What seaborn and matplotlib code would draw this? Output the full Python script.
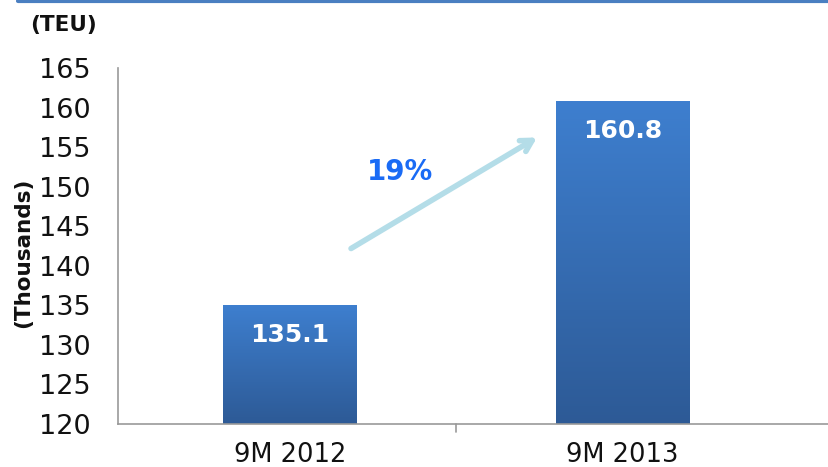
import numpy as np
import pandas as pd
import matplotlib
matplotlib.use("Agg")
import matplotlib.pyplot as plt
import seaborn as sns
from matplotlib.lines import Line2D

categories = ["9M 2012", "9M 2013"]
values = [135.1, 160.8]
value_labels = ["135.1", "160.8"]
growth_label = "19%"
yticks = [120, 125, 130, 135, 140, 145, 150, 155, 160, 165]

sns.set_style("white")
plt.rcParams["font.family"] = ["DejaVu Sans"]

fig = plt.figure(figsize=(8.29, 4.67), dpi=100)
ax = fig.add_axes([0.1423, 0.0921, 0.8577, 0.7623])

df = pd.DataFrame({"period": categories, "teu": values})
sns.barplot(data=df, x="period", y="teu", ax=ax, color="#3a72bf", width=0.4,
            saturation=1, edgecolor="none")

ax.set_ylim(120, 165)
ax.set_xlim(-0.516, 1.62)
ax.set_yticks(yticks)
ax.set_yticklabels([str(t) for t in yticks], fontsize=19.5, color="#111111")

# gradient fill on bars
grad = np.linspace(0, 1, 256).reshape(-1, 1)
cmap = matplotlib.colors.LinearSegmentedColormap.from_list("g", ["#2d5a96", "#3e7fcf"])
for p in ax.patches:
    x0, y0 = p.get_x(), p.get_y()
    w, h = p.get_width(), p.get_height()
    y0c = max(y0, 120)
    im = ax.imshow(grad, extent=[x0, x0 + w, y0c, y0 + h], origin="lower",
                   cmap=cmap, aspect="auto", zorder=p.get_zorder() + 0.1)
    im.set_clip_path(p)
    p.set_facecolor("none")
ax.set_xlim(-0.516, 1.62)
ax.set_ylim(120, 165)

# bar labels
for i, (v, lab) in enumerate(zip(values, value_labels)):
    ax.text(i, v - 3.8, lab, ha="center", va="center", color="white",
            fontsize=18, fontweight="bold", zorder=5)

# x ticks: category labels without ticks, a tick at the boundary
ax.set_xticks([0, 1])
ax.set_xticklabels(categories, fontsize=18.5, color="#111111")
ax.tick_params(axis="x", length=0, pad=13)
ax.tick_params(axis="y", length=8, width=1.2, color="#999999", direction="out", pad=12)
ax.axvline(0.5, ymin=-0.022, ymax=0, color="#999999", lw=1.2, clip_on=False)

for s in ["top", "right"]:
    ax.spines[s].set_visible(False)
for s in ["left", "bottom"]:
    ax.spines[s].set_color("#999999")
    ax.spines[s].set_linewidth(1.2)

ax.set_xlabel("")
ax.set_ylabel("(Thousands)", fontsize=15.5, fontweight="bold", color="#111111")
ax.yaxis.set_label_coords(-0.12, 0.48)

# growth arrow
ax.annotate("", xy=(0.75, 156.4), xytext=(0.177, 142.0),
            arrowprops=dict(arrowstyle="->,head_length=0.8,head_width=0.45",
                            color="#b4dde8", lw=4))
ax.text(0.33, 151.9, growth_label, color="#1a6bf5", fontsize=20,
        fontweight="bold", ha="center", va="center")

fig.text(0.036, 0.946, "(TEU)", fontsize=15.5, fontweight="bold", ha="left",
         va="center", color="#111111")
fig.add_artist(Line2D([0.022, 1.0], [0.997, 0.997], color="#4a7fc1", lw=3,
                      transform=fig.transFigure))

fig.savefig("out.png", dpi=100)
